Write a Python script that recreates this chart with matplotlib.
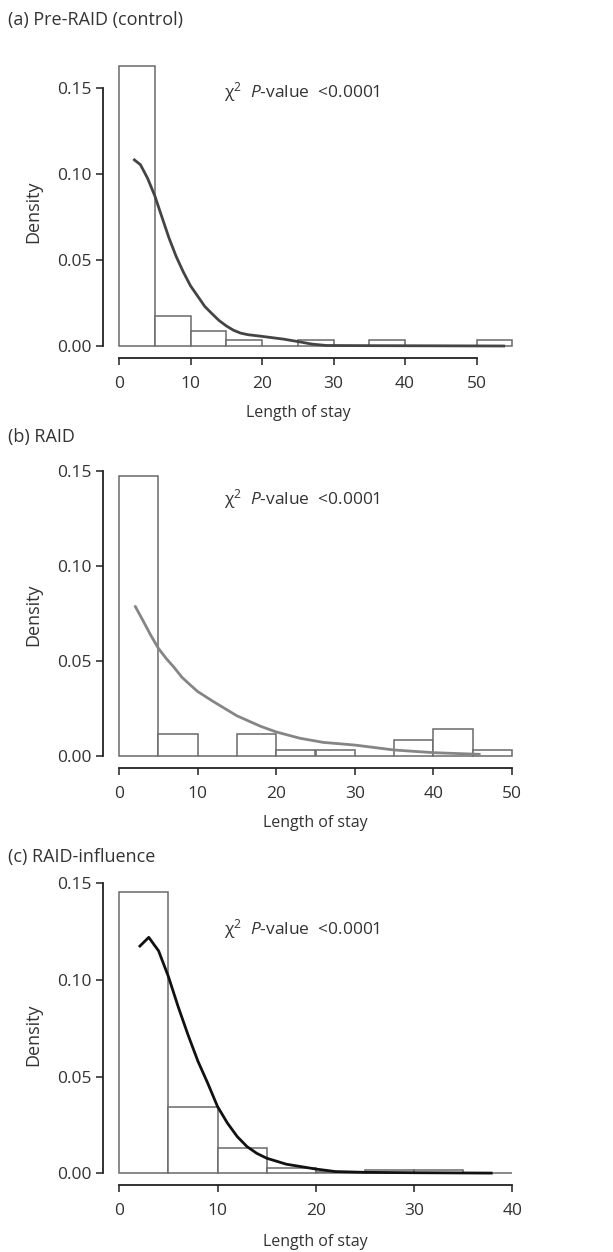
import matplotlib
matplotlib.use("Agg")
import matplotlib.pyplot as plt
import numpy as np

plt.rcParams['font.family'] = ['Open Sans', 'DejaVu Sans']
plt.rcParams['mathtext.fontset'] = 'custom'
plt.rcParams['mathtext.rm'] = 'Open Sans'
plt.rcParams['mathtext.it'] = 'Open Sans:italic'

# ---------------- data ----------------
titles = ["(a) Pre-RAID (control)", "(b) RAID", "(c) RAID-influence"]

bins_a = [0, 5, 10, 15, 20, 25, 30, 35, 40, 45, 50, 55]
dens_a = [0.163, 0.0174, 0.0087, 0.0035, 0.0, 0.0035, 0.0, 0.0035, 0.0, 0.0, 0.0035]
curve_a_x = [2, 3, 4, 5, 6, 7, 8, 9, 10, 11, 12, 13, 14, 15, 16, 17, 18, 20, 23, 25, 27, 29,
             35, 45, 54]
curve_a_y = [0.1087, 0.1054, 0.0975, 0.0874, 0.075, 0.0627, 0.052, 0.043, 0.035, 0.029, 0.023,
             0.0188, 0.0148, 0.0117, 0.0092, 0.0075, 0.0066, 0.0056, 0.0040, 0.0026, 0.0011,
             0.0003, 0.0002, 0.0001, 0.0]
xticks_a = [0, 10, 20, 30, 40, 50]

bins_b = [0, 5, 10, 15, 20, 25, 30, 35, 40, 45, 50]
dens_b = [0.147, 0.0112, 0.0, 0.0112, 0.0028, 0.0028, 0.0, 0.0082, 0.0139, 0.0028]
curve_b_x = [2, 3, 4, 5, 6, 7, 8, 9, 10, 12, 15, 18, 20, 23, 26, 30, 35, 40, 46]
curve_b_y = [0.0791, 0.0715, 0.0637, 0.0566, 0.0512, 0.0465, 0.0413, 0.0375, 0.0338, 0.0285,
             0.021, 0.0155, 0.0125, 0.0092, 0.007, 0.0056, 0.003, 0.0016, 0.0007]
xticks_b = [0, 10, 20, 30, 40, 50]

bins_c = [0, 5, 10, 15, 20, 25, 30, 35, 40]
dens_c = [0.1455, 0.0341, 0.0129, 0.0026, 0.0005, 0.0015, 0.0015, 0.0]
curve_c_x = [2, 3, 4, 5, 6, 7, 8, 9, 10, 11, 12, 13, 14, 15, 17, 20, 22, 25, 30, 38]
curve_c_y = [0.117, 0.122, 0.115, 0.1017, 0.086, 0.0715, 0.058, 0.0466, 0.0345, 0.026, 0.019,
             0.0138, 0.0103, 0.0078, 0.0047, 0.0022, 0.0009, 0.0005, 0.0003, 0.0001]
xticks_c = [0, 10, 20, 30, 40]

yticks = [0.00, 0.05, 0.10, 0.15]
ytick_labels = ["0.00", "0.05", "0.10", "0.15"]
annot = r"χ$^2$  $\it{P}$-value  <0.0001"
xlabel = "Length of stay"
ylabel = "Density"

# ---------------- layout (pixels) ----------------
W, H = 613, 1252
fig = plt.figure(figsize=(W / 100, H / 100), dpi=100)

panels = [
    dict(bins=bins_a, dens=dens_a, cx=curve_a_x, cy=curve_a_y, xt=xticks_a, ccol="#444444",
         x0=119, pxu=7.15, y0=346, pyu=1720, top=55, bot=362, ax_y=358,
         title_y=20, ann=(224, 92), xl=(298, 413), yl=212),
    dict(bins=bins_b, dens=dens_b, cx=curve_b_x, cy=curve_b_y, xt=xticks_b, ccol="#858585",
         x0=119, pxu=7.86, y0=755.7, pyu=1900, top=460, bot=772, ax_y=768,
         title_y=437, ann=(224, 499), xl=(315, 823), yl=615),
    dict(bins=bins_c, dens=dens_c, cx=curve_c_x, cy=curve_c_y, xt=xticks_c, ccol="#111111",
         x0=119.3, pxu=9.825, y0=1173.3, pyu=1934, top=875, bot=1190, ax_y=1185,
         title_y=857, ann=(224, 929), xl=(315, 1242), yl=1035),
]

LEFT, RIGHT, SPINE_X = 95, 540, 103
tcol = "#333333"

for title, p in zip(titles, panels):
    ax = fig.add_axes([LEFT / W, 1 - p['bot'] / H, (RIGHT - LEFT) / W, (p['bot'] - p['top']) / H])
    ax.set_xlim((LEFT - p['x0']) / p['pxu'], (RIGHT - p['x0']) / p['pxu'])
    ax.set_ylim((p['y0'] - p['bot']) / p['pyu'], (p['y0'] - p['top']) / p['pyu'])
    ax.patch.set_alpha(0)

    edges = np.array(p['bins'], dtype=float)
    ax.bar(edges[:-1], p['dens'], width=np.diff(edges), align='edge',
           facecolor='white', edgecolor='#6a6a6a', linewidth=1.1, zorder=2)
    ax.plot(p['cx'], p['cy'], color=p['ccol'], linewidth=2.0, zorder=3,
            solid_capstyle='butt')

    for s in ['top', 'right']:
        ax.spines[s].set_visible(False)
    ax.spines['left'].set_position(('data', (SPINE_X - p['x0']) / p['pxu']))
    ax.spines['left'].set_bounds(0, 0.15)
    ax.spines['bottom'].set_position(('data', (p['y0'] - p['ax_y']) / p['pyu']))
    ax.spines['bottom'].set_bounds(p['xt'][0], p['xt'][-1])
    for s in ['left', 'bottom']:
        ax.spines[s].set_color('#222222')
        ax.spines[s].set_linewidth(1.3)

    ax.set_yticks(yticks)
    ax.set_yticklabels(ytick_labels)
    ax.set_xticks(p['xt'])
    ax.set_xticklabels([str(v) for v in p['xt']])
    ax.tick_params(axis='both', direction='out', length=5, width=1.1, color='#222222',
                   labelsize=12.5, labelcolor=tcol)
    ax.tick_params(axis='x', pad=8)
    ax.tick_params(axis='y', pad=3)

    fig.text(8 / W, 1 - p['title_y'] / H, title, fontsize=13, color=tcol,
             ha='left', va='center')
    fig.text(p['ann'][0] / W, 1 - p['ann'][1] / H, annot, fontsize=12.5, color=tcol,
             ha='left', va='center')
    fig.text(p['xl'][0] / W, 1 - p['xl'][1] / H, xlabel, fontsize=11.5, color=tcol,
             ha='center', va='center')
    fig.text(33 / W, 1 - p['yl'] / H, ylabel, fontsize=13, color=tcol,
             ha='center', va='center', rotation=90)

fig.savefig("out.png", dpi=100)
